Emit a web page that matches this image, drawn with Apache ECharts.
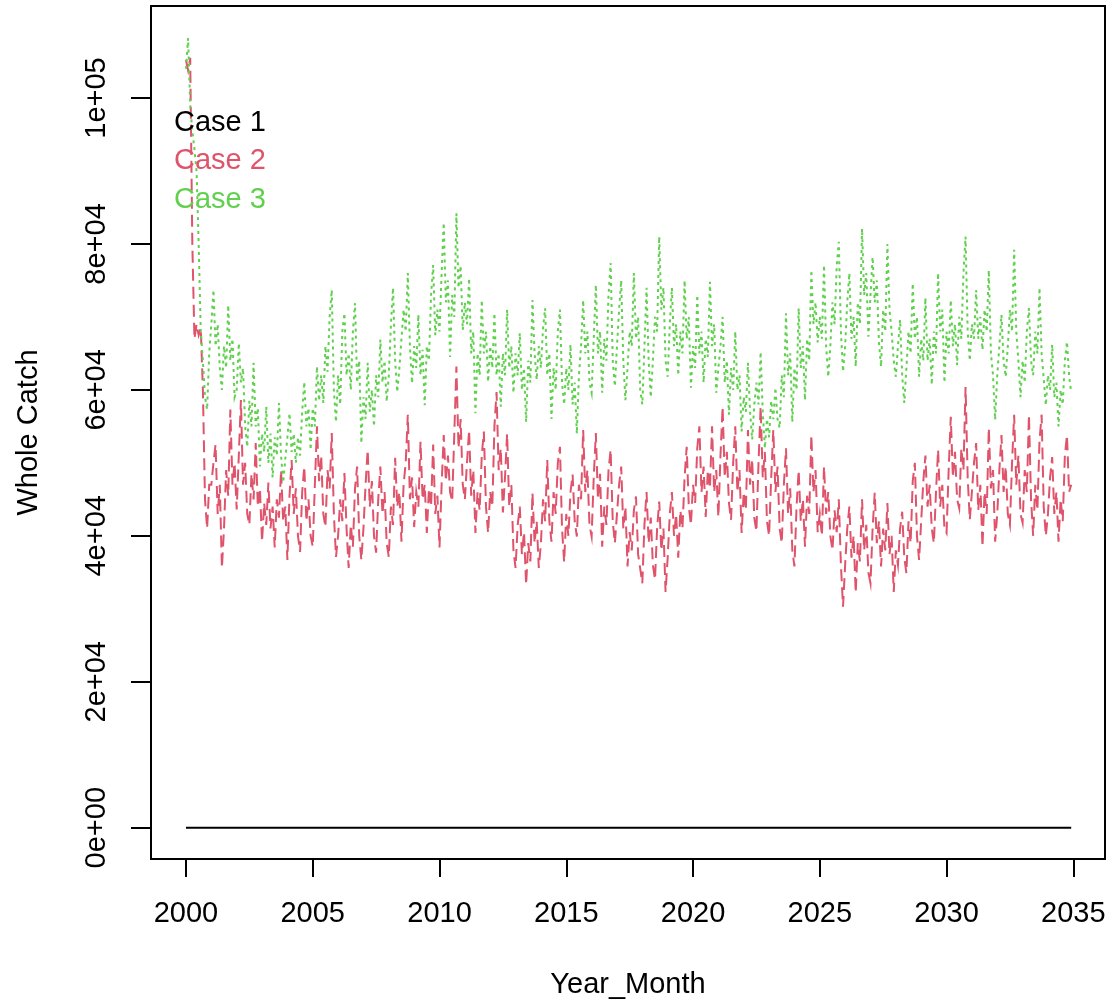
<!DOCTYPE html>
<html>
<head>
<meta charset="utf-8">
<title>Whole Catch</title>
<script src="https://cdn.jsdelivr.net/npm/echarts@6/dist/echarts.min.js"></script>
<style>
  html, body { margin: 0; padding: 0; background: #ffffff; }
  #chart { width: 1114px; height: 1005px; }
</style>
</head>
<body>
<div id="chart"></div>
<script>
// Monthly series, January 2000 to December 2034, in thousands of catch.
const startYear = 2000;

const caseNames = ['Case 1', 'Case 2', 'Case 3'];
const caseColors = ['#000000', '#DF536B', '#61D04F'];

// Case 1: no catch throughout the period
const caseOne = new Array(420).fill(0);

// Case 2
const caseTwo = [
  105.2, 103.8, 105.5, 80.0, 67.0, 69.0, 67.5, 68.5, 60.0, 45.0, 41.0, 47.0,   // 2000
  47.0, 50.0, 52.5, 43.0, 47.0, 35.6, 41.0, 49.0, 45.5, 57.3, 47.0, 50.0,      // 2001
  43.6, 51.0, 58.6, 47.0, 50.0, 43.0, 41.5, 48.5, 45.0, 52.7, 44.0, 46.5,      // 2002
  39.2, 44.5, 41.5, 47.3, 41.0, 44.0, 38.4, 45.0, 42.5, 49.0, 42.0, 44.0,      // 2003
  36.7, 45.5, 50.4, 43.0, 46.5, 40.0, 37.8, 46.0, 49.5, 42.0, 45.0, 40.0,      // 2004
  38.5, 47.0, 55.0, 47.5, 51.0, 43.0, 41.2, 49.0, 46.5, 54.1, 43.0, 37.1,      // 2005
  40.0, 45.0, 42.0, 48.6, 41.0, 35.6, 41.5, 38.5, 46.5, 49.5, 40.0, 36.7,      // 2006
  41.0, 47.0, 51.8, 44.0, 47.5, 40.0, 37.7, 45.0, 49.5, 43.0, 46.0, 39.0,      // 2007
  37.1, 44.0, 41.5, 50.7, 44.0, 46.0, 39.2, 47.0, 50.0, 56.6, 45.0, 48.0,      // 2008
  41.2, 46.0, 44.0, 52.9, 45.0, 47.0, 40.4, 46.5, 44.0, 52.5, 43.0, 45.5,      // 2009
  38.4, 47.0, 53.8, 47.5, 51.0, 46.0, 44.7, 54.0, 63.2, 52.0, 56.0, 47.0,      // 2010
  45.0, 50.0, 54.5, 45.5, 49.0, 40.4, 46.0, 43.5, 51.0, 54.3, 44.0, 40.4,      // 2011
  46.0, 44.0, 55.0, 59.7, 49.0, 52.0, 43.2, 48.0, 54.0, 44.0, 47.0, 38.0,      // 2012
  35.6, 41.5, 44.0, 37.5, 40.5, 33.3, 39.0, 36.5, 45.9, 39.0, 42.0, 35.6,      // 2013
  39.0, 45.0, 42.0, 50.4, 42.0, 39.2, 46.0, 43.0, 50.0, 52.2, 41.0, 36.4,      // 2014
  43.0, 40.0, 46.0, 48.4, 42.0, 39.9, 47.0, 45.0, 54.5, 46.0, 49.0, 41.5,      // 2015
  39.9, 48.0, 54.1, 45.0, 48.5, 38.5, 44.0, 41.5, 49.0, 51.8, 42.0, 39.0,      // 2016
  43.0, 47.0, 49.5, 41.0, 44.0, 35.8, 40.5, 38.0, 43.5, 45.4, 37.5, 35.5,      // 2017
  33.5, 41.5, 46.0, 39.0, 42.5, 36.0, 34.0, 41.0, 44.7, 38.0, 41.0, 32.3,      // 2018
  37.0, 43.0, 46.0, 40.0, 43.0, 37.0, 43.5, 41.0, 48.0, 52.2, 44.0, 41.5,      // 2019
  47.0, 44.5, 52.0, 55.0, 46.0, 49.5, 42.6, 49.0, 46.5, 55.0, 46.0, 49.0,      // 2020
  42.6, 51.0, 57.7, 48.0, 51.5, 44.5, 42.2, 50.0, 55.0, 46.0, 49.0, 40.4,      // 2021
  46.0, 43.5, 54.5, 47.0, 50.5, 42.5, 40.6, 50.0, 57.7, 48.0, 51.5, 42.0,      // 2022
  40.0, 48.0, 54.5, 46.0, 49.5, 41.0, 39.0, 47.0, 52.0, 43.0, 46.5, 38.0,      // 2023
  35.8, 44.0, 49.0, 42.0, 45.0, 38.5, 45.5, 43.0, 53.8, 46.0, 49.0, 40.5,      // 2024
  43.0, 40.0, 49.5, 43.0, 46.0, 40.0, 38.0, 43.5, 40.5, 45.0, 36.0, 30.3,      // 2025
  36.0, 41.0, 44.0, 37.0, 40.0, 32.2, 39.0, 36.5, 45.0, 38.0, 41.5, 35.0,      // 2026
  33.5, 41.0, 45.9, 39.0, 42.0, 35.8, 41.0, 38.0, 44.5, 37.5, 40.0, 32.3,      // 2027
  38.0, 36.0, 41.0, 43.3, 37.0, 34.9, 42.0, 39.0, 47.5, 50.0, 40.0, 36.7,      // 2028
  42.0, 47.5, 51.0, 44.0, 47.0, 41.0, 39.0, 46.0, 51.8, 44.0, 47.0, 41.0,      // 2029
  40.4, 49.0, 56.3, 48.0, 51.5, 45.0, 43.8, 52.0, 49.0, 60.4, 48.0, 42.2,      // 2030
  46.0, 50.0, 52.7, 43.5, 47.0, 38.5, 46.0, 43.0, 54.8, 46.5, 49.0, 39.2,      // 2031
  43.0, 49.0, 53.8, 46.0, 49.5, 43.0, 41.5, 50.0, 56.6, 47.0, 51.0, 43.0,      // 2032
  41.8, 49.0, 46.0, 56.6, 45.0, 40.0, 47.0, 43.5, 53.0, 56.6, 44.0, 40.0,      // 2033
  43.0, 48.0, 50.8, 43.0, 46.0, 39.2, 45.0, 42.0, 51.0, 53.8, 46.0, 47.0       // 2034
];

// Case 3
const caseThree = [
  104.0, 108.2, 99.0, 95.5, 93.0, 90.0, 80.0, 68.0, 64.0, 59.0, 57.3, 65.0,    // 2000
  69.0, 73.7, 66.0, 69.0, 63.0, 60.0, 66.0, 63.0, 71.6, 64.0, 67.0, 59.0,      // 2001
  60.0, 66.4, 61.0, 63.0, 55.0, 52.2, 58.5, 55.0, 63.7, 55.0, 57.5, 49.5,      // 2002
  54.0, 51.5, 57.7, 50.0, 54.0, 48.0, 53.5, 51.0, 58.2, 51.0, 47.3, 50.5,      // 2003
  53.5, 56.8, 51.5, 54.0, 50.0, 53.5, 51.0, 57.0, 61.1, 55.0, 57.5, 51.8,      // 2004
  57.5, 55.0, 63.2, 58.5, 62.0, 58.2, 66.0, 62.5, 70.0, 73.7, 60.0, 55.6,      // 2005
  62.0, 58.0, 68.0, 70.5, 62.0, 65.0, 60.0, 68.0, 71.9, 61.0, 64.0, 52.7,      // 2006
  59.0, 56.0, 63.7, 57.0, 60.0, 55.0, 62.0, 59.0, 66.9, 61.0, 64.0, 58.4,      // 2007
  62.0, 69.0, 74.0, 64.0, 59.7, 63.0, 67.0, 71.0, 68.0, 76.0, 66.0, 60.9,      // 2008
  66.0, 63.0, 70.3, 62.0, 65.5, 57.9, 66.0, 64.0, 73.0, 77.1, 67.5, 71.0,      // 2009
  68.0, 76.0, 82.9, 72.0, 75.0, 64.5, 73.0, 70.0, 84.2, 74.0, 77.0, 68.2,      // 2010
  72.0, 69.0, 75.3, 65.0, 68.0, 56.8, 65.0, 62.0, 72.3, 65.0, 68.0, 61.1,      // 2011
  66.0, 63.0, 70.5, 62.0, 65.0, 57.7, 65.0, 62.0, 71.0, 63.0, 66.0, 59.6,      // 2012
  65.0, 62.0, 67.8, 60.0, 63.0, 55.6, 64.0, 61.0, 72.3, 65.0, 61.4, 66.0,      // 2013
  63.0, 68.5, 71.2, 62.0, 65.0, 56.0, 63.0, 60.0, 68.0, 71.0, 61.0, 58.0,      // 2014
  63.0, 60.0, 66.2, 58.0, 61.0, 54.0, 62.0, 66.0, 72.3, 65.0, 68.0, 61.0,      // 2015
  59.6, 67.0, 74.4, 65.0, 68.0, 59.6, 67.0, 64.0, 73.0, 77.4, 64.0, 60.5,      // 2016
  66.0, 71.0, 75.0, 64.0, 58.6, 63.0, 68.0, 66.0, 76.0, 67.0, 70.0, 60.0,      // 2017
  58.0, 66.0, 74.0, 64.0, 59.0, 64.0, 70.0, 68.0, 81.0, 71.0, 74.0, 64.0,      // 2018
  61.8, 69.0, 74.0, 66.0, 69.0, 62.0, 68.0, 65.0, 75.0, 67.0, 70.0, 60.3,      // 2019
  66.0, 63.0, 73.0, 65.0, 68.0, 61.0, 67.0, 64.5, 74.8, 66.0, 69.0, 59.6,      // 2020
  63.0, 66.0, 70.0, 61.0, 64.0, 56.6, 63.0, 60.0, 68.0, 60.0, 62.0, 54.3,      // 2021
  59.0, 57.0, 63.7, 57.0, 53.2, 58.0, 61.0, 58.0, 65.2, 57.0, 52.0, 56.0,      // 2022
  53.5, 58.5, 56.0, 60.3, 56.0, 54.8, 62.0, 59.0, 70.5, 62.0, 65.0, 55.6,      // 2023
  63.0, 60.0, 71.2, 63.0, 66.0, 58.6, 67.0, 64.0, 76.4, 69.0, 72.0, 66.5,      // 2024
  70.0, 67.0, 77.1, 66.0, 61.8, 66.0, 72.0, 69.0, 77.0, 80.3, 68.0, 62.5,      // 2025
  66.0, 72.0, 76.0, 67.0, 70.0, 63.2, 72.0, 69.0, 82.1, 73.0, 76.0, 67.3,      // 2026
  73.0, 78.2, 72.0, 75.0, 66.5, 63.2, 71.0, 68.0, 80.0, 71.0, 68.0, 64.0,      // 2027
  61.8, 66.0, 69.6, 62.0, 58.2, 63.0, 68.0, 65.0, 74.6, 67.0, 70.0, 61.8,      // 2028
  67.0, 64.0, 72.6, 64.0, 67.0, 60.7, 68.0, 65.0, 76.0, 68.0, 71.0, 61.0,      // 2029
  68.0, 65.0, 72.3, 66.0, 69.0, 63.4, 70.0, 67.0, 76.0, 81.0, 68.0, 64.0,      // 2030
  69.0, 67.0, 73.7, 67.0, 70.0, 65.5, 71.0, 68.0, 76.4, 65.0, 62.0, 55.9,      // 2031
  62.0, 66.0, 70.3, 64.0, 61.8, 66.0, 71.0, 68.0, 79.2, 68.0, 64.0, 59.0,      // 2032
  64.0, 61.0, 68.0, 71.2, 64.0, 62.0, 68.0, 65.0, 74.0, 65.0, 61.5, 57.9,      // 2033
  62.0, 60.0, 66.2, 59.0, 61.0, 55.0, 60.0, 58.0, 64.0, 66.6, 62.0, 59.6       // 2034
];

// Axis ticks and their printed labels
const xTicks = [2000, 2005, 2010, 2015, 2020, 2025, 2030, 2035];
const yTicks = [0, 20000, 40000, 60000, 80000, 100000];
const yTickLabels = ['0e+00', '2e+04', '4e+04', '6e+04', '8e+04', '1e+05'];

const unit = 1000;
const toPoints = arr => arr.map((v, i) => [startYear + i / 12, v * unit]);

const font = 'Liberation Sans, Arial, sans-serif';
const fs = 29;

const chart = echarts.init(document.getElementById('chart'), null, { renderer: 'canvas' });

chart.setOption({
  animation: false,
  backgroundColor: '#ffffff',
  grid: {
    left: 151, right: 9, top: 6, bottom: 146,
    show: true, borderColor: '#000000', borderWidth: 2, backgroundColor: 'transparent'
  },
  xAxis: {
    type: 'value',
    min: 1998.62, max: 2036.25,
    name: 'Year_Month', nameLocation: 'middle', nameGap: 111,
    nameTextStyle: { fontFamily: font, fontSize: fs, color: '#000' },
    splitLine: { show: false },
    axisLine: { show: false, onZero: false },
    axisTick: { show: true, length: 18, customValues: xTicks, lineStyle: { color: '#000', width: 2 } },
    axisLabel: {
      customValues: xTicks, margin: 40,
      fontFamily: font, fontSize: fs, color: '#000',
      formatter: v => String(Math.round(v))
    }
  },
  yAxis: {
    type: 'value',
    min: -4290, max: 112610,
    name: 'Whole Catch', nameLocation: 'middle', nameGap: 108, nameRotate: 90,
    nameTextStyle: { fontFamily: font, fontSize: fs, color: '#000' },
    splitLine: { show: false },
    axisLine: { show: false, onZero: false },
    axisTick: { show: true, length: 20, customValues: yTicks, lineStyle: { color: '#000', width: 2 } },
    axisLabel: {
      customValues: yTicks, margin: 40, rotate: 90,
      fontFamily: font, fontSize: fs, color: '#000',
      formatter: v => yTickLabels[yTicks.indexOf(Math.round(v))] ?? ''
    }
  },
  series: [
    {
      name: caseNames[0], type: 'line', data: toPoints(caseOne),
      showSymbol: false, symbol: 'none', silent: true,
      lineStyle: { color: caseColors[0], width: 2, type: 'solid' }
    },
    {
      name: caseNames[1], type: 'line', data: toPoints(caseTwo),
      showSymbol: false, symbol: 'none', silent: true,
      lineStyle: { color: caseColors[1], width: 2, type: [12, 6], cap: 'butt', join: 'miter' }
    },
    {
      name: caseNames[2], type: 'line', data: toPoints(caseThree),
      showSymbol: false, symbol: 'none', silent: true,
      lineStyle: { color: caseColors[2], width: 2, type: [3, 4], cap: 'butt', join: 'miter' }
    }
  ],
  graphic: caseNames.map((name, k) => ({
    type: 'text',
    left: 174,
    top: 108 + k * 38.5,
    z: 100,
    style: { text: name, fill: caseColors[k], font: fs + 'px ' + font }
  }))
});
</script>
</body>
</html>
